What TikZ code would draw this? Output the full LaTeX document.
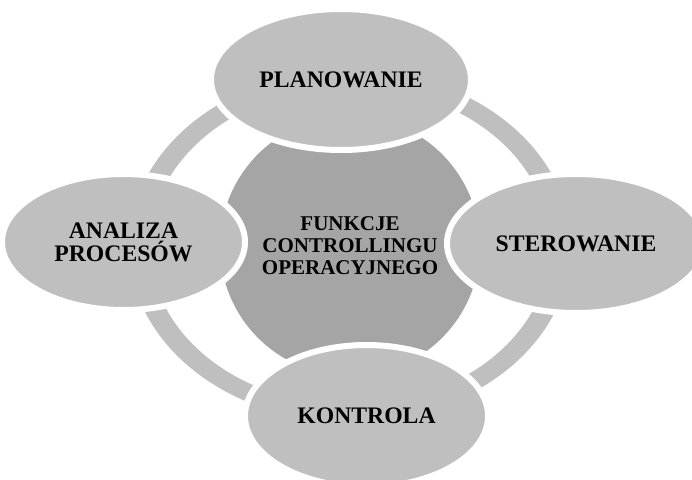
\documentclass[tikz,border=0pt]{standalone}
\usepackage{fontspec}
\setmainfont{Liberation Serif}
\usetikzlibrary{shapes.geometric}
\definecolor{lightg}{HTML}{BFBFBF}
\definecolor{darkg}{HTML}{A5A5A5}
\begin{document}
\begin{tikzpicture}[x=1pt,y=-1pt,
  petal/.style={ellipse, fill=lightg, draw=white, line width=6pt, inner sep=0pt, align=center,
    font=\bfseries\fontsize{23.7}{23}\selectfont},
  hub/.style={circle, fill=darkg, inner sep=0pt, minimum size=260pt, align=center,
    font=\bfseries\fontsize{21}{22}\selectfont},
  ringfill/.style={fill=lightg, even odd rule}]
\useasboundingbox (0,0) rectangle (692,479);
\clip (0,0) rectangle (692,479);
\fill[white] (0,0) rectangle (692,479);
\fill[ringfill] (350,246) ellipse [x radius=221, y radius=176]
                (350,246) ellipse [x radius=200, y radius=159];
\node[hub] (hub) at (350,246) {FUNKCJE\\CONTROLLINGU\\OPERACYJNEGO};
\node[petal, minimum width=260pt, minimum height=141pt] (plan) at (341,79.5) {PLANOWANIE};
\node[petal, minimum width=258pt, minimum height=139pt] (ster) at (576,243.5) {STEROWANIE};
\node[petal, minimum width=243pt, minimum height=142pt] (kont) at (366.5,416) {KONTROLA};
\node[petal, minimum width=243pt, minimum height=136pt] (anal) at (123.5,242) {ANALIZA\\PROCESÓW};
\end{tikzpicture}
\end{document}
